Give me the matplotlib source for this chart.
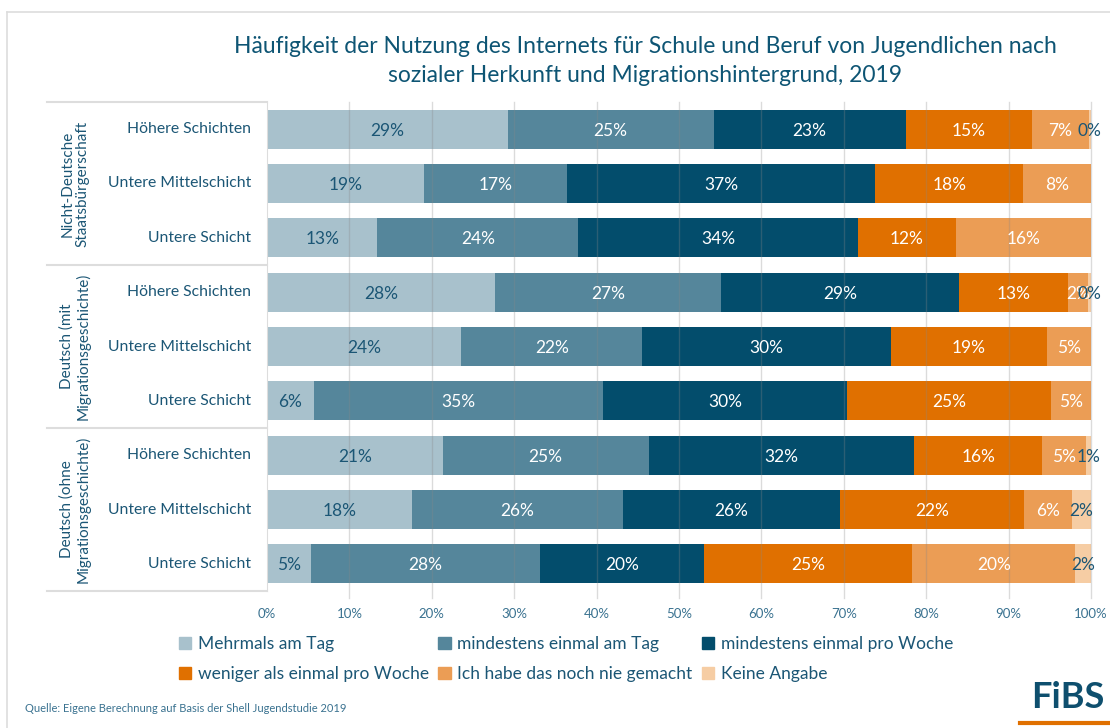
import numpy as np
import matplotlib
matplotlib.use('Agg')
from matplotlib import pyplot as plt
from matplotlib.lines import Line2D
from matplotlib.patches import Patch

plt.rcParams['font.family'] = ['Lato', 'DejaVu Sans']

#Data - rows top to bottom
groups = ['Nicht-Deutsche\nStaatsbürgerschaft', 'Deutsch (mit\nMigrationsgeschichte)', 'Deutsch (ohne\nMigrationsgeschichte)']
categories = ['Höhere Schichten', 'Untere Mittelschicht', 'Untere Schicht',
              'Höhere Schichten', 'Untere Mittelschicht', 'Untere Schicht',
              'Höhere Schichten', 'Untere Mittelschicht', 'Untere Schicht']
series = ['Mehrmals am Tag', 'mindestens einmal am Tag', 'mindestens einmal pro Woche',
          'weniger als einmal pro Woche', 'Ich habe das noch nie gemacht', 'Keine Angabe']

mehrmals_tag = [29.2, 19.0, 13.4, 27.7, 23.6, 5.7, 21.3, 17.6, 5.3]
einmal_tag = [25.0, 17.4, 24.4, 27.4, 21.9, 35.1, 25.0, 25.6, 27.8]
einmal_woche = [23.3, 37.4, 33.9, 28.9, 30.2, 29.6, 32.2, 26.3, 19.9]
weniger_woche = [15.4, 18.0, 11.9, 13.2, 18.9, 24.8, 15.6, 22.4, 25.3]
nie_gemacht = [6.8, 8.2, 16.4, 2.4, 5.4, 4.8, 5.3, 5.8, 19.8]
keine_angabe = [0.3, 0.0, 0.0, 0.4, 0.0, 0.0, 0.6, 2.3, 1.9]

values = [mehrmals_tag, einmal_tag, einmal_woche, weniger_woche, nie_gemacht, keine_angabe]
colors = ['#A8C1CC', '#55869B', '#034D6C', '#E07000', '#EB9D55', '#F6CDA4']
label_colors = ['#1B5675', 'white', 'white', 'white', 'white', '#1B5675']
txt_col = '#1B5675'

W, H = 1110, 728
fig = plt.figure(figsize=(W/100, H/100), dpi=100)
ax = fig.add_axes([267/W, 1-591/H, (1091-267)/W, (591-102)/H])

y = np.arange(len(categories))
left = np.zeros(len(categories))
for i, vals in enumerate(values):
    vals = np.array(vals)
    ax.barh(y, vals, left=left, height=0.72, color=colors[i], label=series[i], zorder=2)
    for j, v in enumerate(vals):
        if v > 0:
            ax.text(left[j]+v/2, y[j]+0.03, str(int(round(v)))+'%', ha='center', va='center',
                    color=label_colors[i], fontsize=12.5, zorder=4)
    left += vals

ax.set_xlim(0, 100)
ax.set_ylim(len(categories)-0.5, -0.5)
ax.set_xticks(np.arange(0, 101, 10))
ax.set_xticklabels([str(t)+'%' for t in range(0, 101, 10)], fontsize=9.5, color='#3A7290')
ax.set_yticks([])
ax.tick_params(axis='x', length=0, pad=12)
for s in ['top', 'right', 'bottom']:
    ax.spines[s].set_visible(False)
ax.spines['left'].set_color('#DDDDDD')
for t in range(10, 101, 10):
    ax.axvline(t, color='#888888', alpha=0.3, lw=1, zorder=3, ymin=-0.015, clip_on=False)

#Category labels and group labels
for j, c in enumerate(categories):
    fig.text(251/W, 1-(129+54.4*j)/H, c, ha='right', va='center', fontsize=11.3, color=txt_col)
for g, name in enumerate(groups):
    yc = 102 + 163*g + 81.5
    fig.text(75/W, 1-yc/H, name, ha='center', va='center', rotation=90, fontsize=11,
             color=txt_col, linespacing=1.1, multialignment='center')
for yl in [102, 265, 428, 591]:
    fig.add_artist(Line2D([47/W, 267/W], [1-yl/H, 1-yl/H], color='#DDDDDD', lw=1.5))

#Frame
fig.add_artist(Line2D([7/W, 7/W], [0, 1-12/H], color='#DDDDDD', lw=1.2))
fig.add_artist(Line2D([7/W, 1], [1-12/H, 1-12/H], color='#DDDDDD', lw=1.2))

fig.text(645/W, 1-61/H, 'Häufigkeit der Nutzung des Internets für Schule und Beruf von Jugendlichen nach\nsozialer Herkunft und Migrationshintergrund, 2019',
         ha='center', va='center', fontsize=16.5, color='#0E5574', linespacing=1.45)

#Legend
handles = [Patch(color=colors[i], label=series[i]) for i in range(6)]
order = [0, 3, 1, 4, 2, 5]
fig.legend([handles[i] for i in order], [series[i] for i in order], ncol=3,
           loc='center left', bbox_to_anchor=(163/W, 1-659/H), frameon=False,
           fontsize=12.5, labelcolor=txt_col, handlelength=0.7, handleheight=0.7,
           handletextpad=0.4, columnspacing=0.55, labelspacing=0.8)

fig.text(25/W, 1-709/H, 'Quelle: Eigene Berechnung auf Basis der Shell Jugendstudie 2019',
         ha='left', va='center', fontsize=8, color='#3A7290')
fig.text(1068/W, 1-697/H, 'FiBS', ha='center', va='center', fontsize=26, fontweight='bold', color='#0E4F6E')
fig.add_artist(Line2D([1020/W, 1], [1-723/H, 1-723/H], color='#E07000', lw=3))

plt.savefig('out.png', dpi=100)
